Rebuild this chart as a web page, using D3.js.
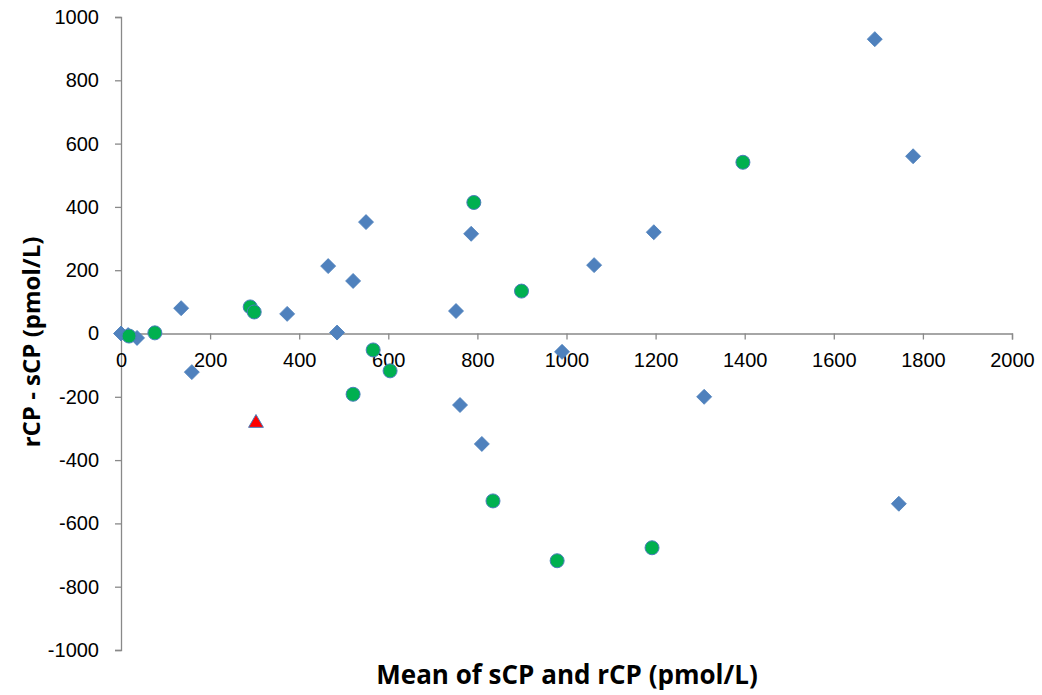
<!DOCTYPE html>
<html>
<head>
<meta charset="utf-8">
<script src="https://cdn.jsdelivr.net/npm/d3@7"></script>
<style>
  html, body { margin: 0; padding: 0; background: #fff; }
  .tick text { font-family: "Liberation Sans", Arial, sans-serif; }
  .title { font-family: "Open Sans", Lato, sans-serif; font-weight: bold; }
</style>
</head>
<body>
<svg id="chart" width="1042" height="695"></svg>
<script>
// Bland-Altman style scatter: difference vs mean
const blueX = [0, 16, 36, 135, 159, 373, 465, 485, 521, 550, 752, 786, 761, 810, 990, 1062, 1196, 1309, 1692, 1778, 1746];
const blueY = [0, -5, -14, 80, -122, 62, 213, 3, 166, 352, 71, 315, -226, -349, -58, 216, 320, -200, 930, 560, -538];

const greenX = [18, 76, 290, 299, 792, 899, 566, 604, 521, 835, 979, 1192, 1396];
const greenY = [-8, 2, 84, 68, 414, 134, -52, -118, -192, -529, -718, -677, 541];

const redX = [303];
const redY = [-283];

const xTicks = [0, 200, 400, 600, 800, 1000, 1200, 1400, 1600, 1800, 2000];
const yTicks = [-1000, -800, -600, -400, -200, 0, 200, 400, 600, 800, 1000];

const xTitle = 'Mean of sCP and rCP (pmol/L)';
const yTitle = 'rCP - sCP (pmol/L)';

const margin = { top: 17, right: 30, bottom: 45, left: 121 };
const W = 1042, H = 695;
const width = W - margin.left - margin.right;
const height = H - margin.top - margin.bottom;

const svg = d3.select('#chart');
const g = svg.append('g').attr('transform', `translate(${margin.left},${margin.top})`);

const x = d3.scaleLinear().domain([0, 2000]).range([0, width]);
const y = d3.scaleLinear().domain([-1000, 1000]).range([height, 0]);

const axisColor = '#898989';
const fmt = d => String(d); // plain hyphen, no thousands separator

// y axis on the left
const yAxis = g.append('g')
  .call(d3.axisLeft(y).tickValues(yTicks).tickFormat(fmt).tickSize(6).tickPadding(16));
yAxis.select('.domain').attr('stroke', axisColor).attr('stroke-width', 1.3);
yAxis.selectAll('.tick line').attr('stroke', axisColor).attr('stroke-width', 1.3);
yAxis.selectAll('.tick text').attr('font-size', 20).attr('fill', '#000')
  .attr('font-family', '"Liberation Sans", Arial, sans-serif');

// x axis crosses at y = 0
const xAxis = g.append('g')
  .attr('transform', `translate(0,${y(0)})`)
  .call(d3.axisBottom(x).tickValues(xTicks).tickFormat(fmt).tickSize(6).tickSizeOuter(6).tickPadding(13));
xAxis.select('.domain').attr('stroke', axisColor).attr('stroke-width', 1.3);
xAxis.selectAll('.tick line').attr('stroke', axisColor).attr('stroke-width', 1.3);
xAxis.selectAll('.tick text').attr('font-size', 20).attr('fill', '#000')
  .attr('font-family', '"Liberation Sans", Arial, sans-serif');

// markers
const diamond = d3.symbol().type(d3.symbolSquare).size(112);
g.append('g').selectAll('path')
  .data(blueX.map((v, i) => [v, blueY[i]]))
  .join('path')
  .attr('d', diamond)
  .attr('transform', d => `translate(${x(d[0])},${y(d[1])}) rotate(45)`)
  .attr('fill', '#4f81bd')
  .attr('stroke', '#4a7ebb')
  .attr('stroke-width', 0.8);

g.append('g').selectAll('circle')
  .data(greenX.map((v, i) => [v, greenY[i]]))
  .join('circle')
  .attr('cx', d => x(d[0]))
  .attr('cy', d => y(d[1]))
  .attr('r', 7)
  .attr('fill', '#00b050')
  .attr('stroke', '#4a7ebb')
  .attr('stroke-width', 1);

const tri = d3.symbol().type(d3.symbolTriangle).size(95);
g.append('g').selectAll('path')
  .data(redX.map((v, i) => [v, redY[i]]))
  .join('path')
  .attr('d', tri)
  .attr('transform', d => `translate(${x(d[0])},${y(d[1])})`)
  .attr('fill', '#ff0000')
  .attr('stroke', '#4a7ebb')
  .attr('stroke-width', 1);

// axis titles
svg.append('text')
  .attr('class', 'title')
  .attr('x', 567).attr('y', 684)
  .attr('text-anchor', 'middle')
  .attr('font-size', 26)
  .text(xTitle);

svg.append('text')
  .attr('class', 'title')
  .attr('transform', 'translate(40,342) rotate(-90)')
  .attr('text-anchor', 'middle')
  .attr('font-size', 24)
  .text(yTitle);
</script>
</body>
</html>
